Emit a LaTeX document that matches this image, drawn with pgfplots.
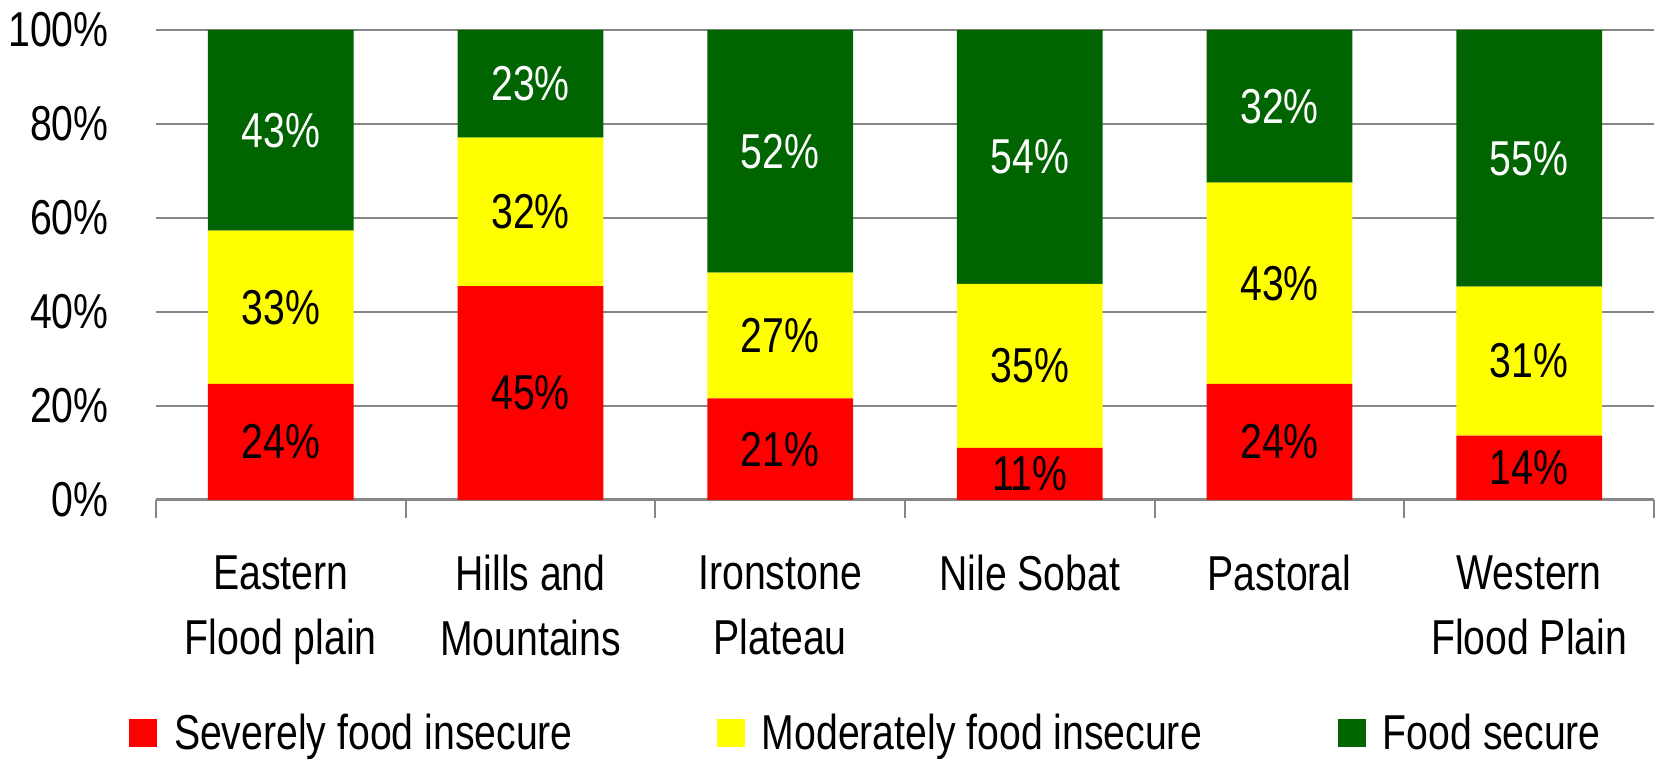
\documentclass[border=0pt]{standalone}
\usepackage{pgfplots}
\pgfplotsset{compat=1.18}
\usepackage{pgfplotstable}
\usepackage{fontspec}
\setmainfont{Liberation Sans}[FakeStretch=0.8]
\definecolor{sevred}{RGB}{255,0,0}
\definecolor{modyel}{RGB}{255,255,0}
\definecolor{secgrn}{RGB}{0,100,0}
\definecolor{gridgray}{RGB}{134,134,134}
\newcommand\cf{\fontsize{24.5pt}{32.5pt}\selectfont}

\pgfplotstableread{
x  sev  mod  sec  sevl modl secl
0  24.7 32.6 42.7 24 33 43
1  45.5 31.6 22.9 45 32 23
2  21.6 26.8 51.6 21 27 52
3  11.1 34.9 54.0 11 35 54
4  24.7 42.8 32.5 24 43 32
5  13.7 31.7 54.6 14 31 55
}\datatable
\pgfplotstablecreatecol[create col/expr={\thisrow{sev}/2}]{sevmid}\datatable
\pgfplotstablecreatecol[create col/expr={\thisrow{sev}+\thisrow{mod}/2}]{modmid}\datatable
\pgfplotstablecreatecol[create col/expr={\thisrow{sev}+\thisrow{mod}+\thisrow{sec}/2}]{secmid}\datatable

\pgfplotsset{
  base/.style={scale only axis, width=749pt, height=235pt,
    xmin=-0.5, xmax=5.5, ymin=0, ymax=100},
  mylegend/.style={legend image code/.code={\fill[##1] (0pt,-7pt) rectangle (14pt,7pt);}},
}

\begin{document}
\begin{tikzpicture}
\begin{axis}[base, name=main,
  ybar stacked, bar width=0.584,
  axis x line=bottom, axis y line=left,
  x axis line style={-, gridgray, line width=1.5pt},
  y axis line style={draw=none},
  ymajorgrids, grid style={gridgray, line width=1.3pt},
  ytick={0,20,...,100},
  yticklabels={0\%,20\%,40\%,60\%,80\%,100\%},
  ytick style={draw=none},
  yticklabel style={font=\cf, anchor=east, inner sep=0pt, xshift=-23.5pt},
  xtick={0,...,5},
  xticklabels={{Eastern\\Flood plain},{Hills and\\Mountains},{Ironstone\\Plateau},{Nile Sobat},{Pastoral},{Western\\Flood Plain}},
  major x tick style={draw=none},
  minor xtick={-0.5,0.5,...,5.5},
  minor x tick style={gridgray, line width=1pt},
  minor tick length=9pt, major tick length=0pt,
  tick align=outside,
  xticklabel style={font=\cf, align=center, anchor=north, inner sep=0pt, yshift=-27.5pt},
  legend style={at={(-0.018,-0.4957)}, anchor=west, draw=none, fill=none,
    inner sep=0pt, outer sep=0pt, legend columns=3, font=\cf,
    /tikz/every odd column/.append style={column sep=6.5pt},
    /tikz/column 2/.append style={column sep=70pt},
    /tikz/column 4/.append style={column sep=66pt},
    cells={anchor=west, inner sep=0pt}},
]
\addplot[fill=sevred, draw=none, mylegend] table[x=x, y=sev]{\datatable};
\addplot[fill=modyel, draw=none, mylegend] table[x=x, y=mod]{\datatable};
\addplot[fill=secgrn, draw=none, mylegend] table[x=x, y=sec]{\datatable};
\legend{Severely food insecure, Moderately food insecure, Food secure}
\end{axis}
\begin{axis}[base, at={(main.south west)}, anchor=south west, hide axis, clip=false,
  point meta=explicit symbolic,
  nodes near coords={\pgfplotspointmeta\%},
  nodes near coords style={font=\cf, anchor=center, inner sep=0pt}]
\addplot[draw=none, mark=none] table[x=x, y=sevmid, meta=sevl]{\datatable};
\addplot[draw=none, mark=none] table[x=x, y=modmid, meta=modl]{\datatable};
\addplot[draw=none, mark=none, nodes near coords style={text=white}] table[x=x, y=secmid, meta=secl]{\datatable};
\end{axis}
\pgfresetboundingbox
\useasboundingbox ([shift={(-78pt,-129.5pt)}]main.south west) rectangle ([shift={(753pt,250pt)}]main.south west);
\end{tikzpicture}
\end{document}
